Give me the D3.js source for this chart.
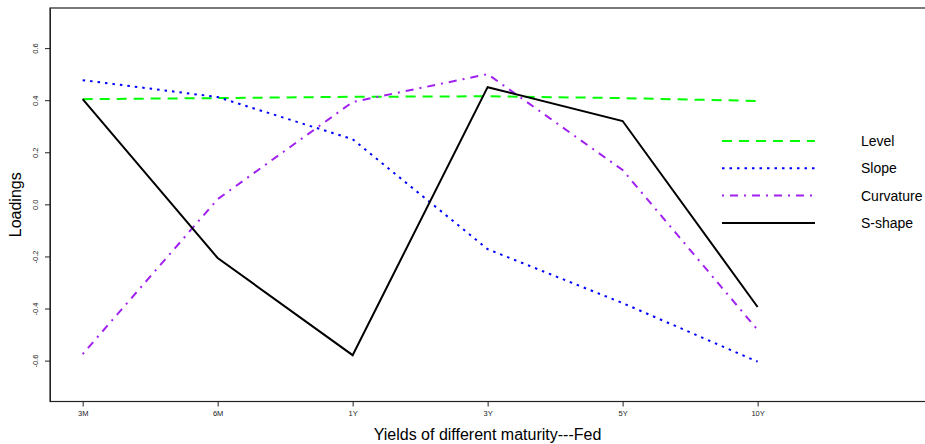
<html>
<head>
  <script src="https://d3js.org/d3.v7.min.js"></script>
  <style>
    body { margin: 0; background: white; }
    text { font-family: "Liberation Sans", Arial, Helvetica, sans-serif; }
  </style>
</head>
<body>
<script>

// maturities on the x axis
maturities = ["3M", "6M", "1Y", "3Y", "5Y", "10Y"]

// loadings
level     = [0.404, 0.408, 0.413, 0.415, 0.408, 0.397]
slope     = [0.477, 0.412, 0.250, -0.172, -0.379, -0.604]
curvature = [-0.575, 0.020, 0.393, 0.500, 0.132, -0.482]
sshape    = [0.404, -0.206, -0.579, 0.450, 0.320, -0.394]

seriesNames = ["Level", "Slope", "Curvature", "S-shape"]
yTicks = [-0.6, -0.4, -0.2, 0.0, 0.2, 0.4, 0.6]

W = 925;
H = 444;

styles = [
  {color: "#00ff00", dash: "10,7"},
  {color: "#0000ff", dash: "2.5,5"},
  {color: "#a020f0", dash: "2,6,8,6"},
  {color: "#000000", dash: null}
]

series = [level, slope, curvature, sshape].map(function(vals, k){
  return {name: seriesNames[k], values: vals, style: styles[k]}
})

svg = d3.select("body").append("svg")
  .attr("width", W)
  .attr("height", H)

left = 50; top_ = 8; bottom = 401.5; right = 925;

x = d3.scaleLinear().domain([-0.242, 6.24]).range([left, right])
y = d3.scaleLinear().domain([-0.757, 0.754]).range([bottom, top_])

// plot box (right edge falls off the picture)
svg.append("rect")
  .attr("x", left).attr("y", top_)
  .attr("width", right - left + 5).attr("height", bottom - top_)
  .attr("fill", "none").attr("stroke", "#222").attr("stroke-width", 1.2)

// y axis
yAxis = svg.append("g")
  .attr("transform", "translate(" + left + ",0)")
  .call(d3.axisLeft(y).tickValues(yTicks).tickSize(5).tickSizeOuter(0)
    .tickFormat(d => d.toFixed(1)))
yAxis.select(".domain").attr("stroke", "#222")
yAxis.selectAll(".tick line").attr("stroke", "#222")
yAxis.selectAll(".tick text")
  .attr("x", 0).attr("dy", 0).attr("text-anchor", "middle")
  .attr("transform", "translate(-12,0) rotate(-90)")
  .attr("font-size", 7.5).attr("fill", "#222")
  .style("font-family", "Liberation Sans, Arial, sans-serif")

// x axis
xAxis = svg.append("g")
  .attr("transform", "translate(0," + bottom + ")")
  .call(d3.axisBottom(x).tickValues(d3.range(maturities.length)).tickSize(5).tickSizeOuter(0)
    .tickFormat(i => maturities[i]))
xAxis.select(".domain").remove()
xAxis.selectAll(".tick line").attr("stroke", "#222")
xAxis.selectAll(".tick text")
  .attr("y", 12).attr("dy", "0.3em")
  .attr("font-size", 7.5).attr("fill", "#222")
  .style("font-family", "Liberation Sans, Arial, sans-serif")

// axis titles
svg.append("text")
  .attr("x", (left + right) / 2).attr("y", 440)
  .attr("text-anchor", "middle")
  .attr("font-size", 16)
  .text("Yields of different maturity---Fed")

svg.append("text")
  .attr("transform", "translate(21," + (top_ + bottom) / 2 + ") rotate(-90)")
  .attr("text-anchor", "middle")
  .attr("font-size", 16)
  .text("Loadings")

// lines
line = d3.line().x((d, i) => x(i)).y(d => y(d))

svg.selectAll("path.series")
  .data(series)
  .enter()
  .append("path")
  .attr("class", "series")
  .attr("d", d => line(d.values))
  .attr("fill", "none")
  .attr("stroke", d => d.style.color)
  .attr("stroke-width", 2)
  .attr("stroke-dasharray", d => d.style.dash)

// legend
legend = svg.append("g").selectAll("g")
  .data(series)
  .enter()
  .append("g")
  .attr("transform", (d, i) => "translate(722," + (141 + i * 27.3) + ")")

legend.append("line")
  .attr("x1", 0).attr("x2", 93)
  .attr("stroke", d => d.style.color)
  .attr("stroke-width", 2)
  .attr("stroke-dasharray", d => d.style.dash)

legend.append("text")
  .attr("x", 139).attr("dy", "0.35em")
  .attr("font-size", 14)
  .text(d => d.name)

</script>
</body>
</html>
